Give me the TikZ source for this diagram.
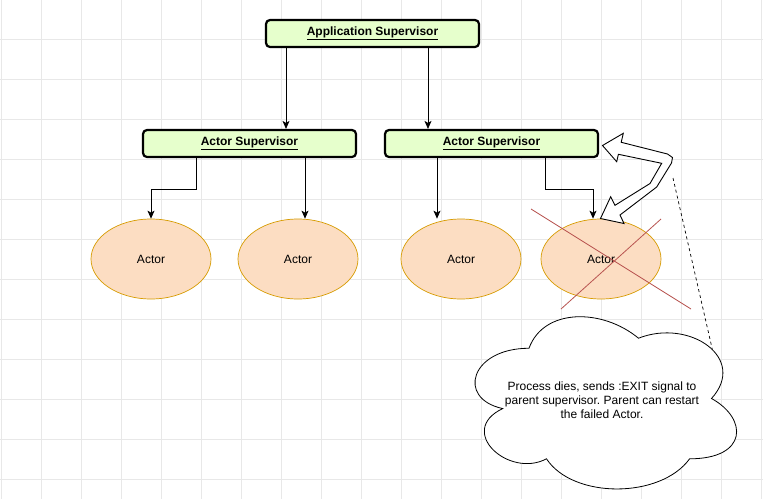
\documentclass[tikz,border=0pt]{standalone}
\usepackage{fontspec}
\setmainfont{Liberation Sans}
\usetikzlibrary{arrows.meta,shapes.geometric}
\definecolor{supfill}{HTML}{E6FFCC}
\definecolor{actorfill}{HTML}{FCDDC2}
\definecolor{actorline}{HTML}{D79B00}
\definecolor{crossred}{HTML}{B85450}
\definecolor{gridgray}{HTML}{E8E8E8}
\frenchspacing

\begin{document}
\begin{tikzpicture}[x=1pt,y=-1pt,
    gridline/.style={draw=gridgray,line width=0.6pt},
    supbox/.style={draw=black,fill=supfill,line width=2.2pt,rounded corners=4pt,
        minimum width=213pt,minimum height=27pt,inner sep=0pt,
        font=\fontsize{12}{14}\selectfont\bfseries},
    actor/.style={ellipse,draw=actorline,fill=actorfill,line width=0.7pt,
        minimum width=120pt,minimum height=80pt,inner sep=0pt,
        font=\fontsize{12}{14}\selectfont},
    conn/.style={draw=black,line width=0.8pt,-{Stealth[length=8pt,width=7pt,inset=2pt]}},
    cross/.style={draw=crossred,line width=0.8pt}]
\useasboundingbox (0,0) rectangle (763,499);
\fill[white] (0,0) rectangle (763,499);

% background grid
\foreach \gx in {1.5,41.5,...,761.5}
    \draw[gridline] (\gx,0) -- (\gx,499);
\foreach \gy in {39.5,79.5,...,479.5}
    \draw[gridline] (0,\gy) -- (763,\gy);

% supervisors
\node[supbox] (app) at (372.5,33.5) {\underline{Application Supervisor}};
\node[supbox] (supl) at (249.5,143.5) {\underline{Actor Supervisor}};
\node[supbox] (supr) at (491.5,143.5) {\underline{Actor Supervisor}};

% actors
\node[actor] (act1) at (151,259) {Actor};
\node[actor] (act2) at (298,259) {Actor};
\node[actor] (act3) at (461,259) {Actor};
\node[actor] (act4) at (601,259) {Actor};

% failed actor
\draw[cross] ([shift={(-70,-50)}]act4.center) -- ([shift={(90,50)}]act4.center);
\draw[cross] ([shift={(-40,50)}]act4.center) -- ([shift={(60,-40)}]act4.center);

% links
\draw[conn] ([xshift=-86.5pt]app.south) -- ([xshift=-86.5pt]app.south |- supl.north);
\draw[conn] ([xshift=55.5pt]app.south) -- ([xshift=55.5pt]app.south |- supr.north);
\draw[conn] ([xshift=-53.5pt]supl.south) -- ++(0,31) -| (act1.north);
\draw[conn] ([xshift=55.5pt]supl.south) -- ([xshift=55.5pt]supl.south |- act2.north);
\draw[conn] ([xshift=-54.5pt]supr.south) -- ([xshift=-54.5pt]supr.south |- act3.north);
\draw[conn] ([xshift=53.5pt]supr.south) -- ++(0,31) -| ([xshift=-8pt]act4.north);

% restart arrow
\draw[fill=white,line width=0.9pt,line join=miter]
    (602.5,145.5) -- (623.3,133.3) -- (621.2,142.3) -- (667.5,154)
    -- (672.5,157.5) -- (671.5,163) -- (656.7,187) -- (620,215)
    -- (624,223.5) -- (600.5,218.5) -- (610.7,196.7) -- (615,205.3)
    -- (650,183.5) -- (661.7,163.3) -- (618.4,154.3) -- (616.7,161.7) -- cycle;

% note
\draw[fill=white,line width=0.8pt]
    (529,348.25) .. controls (470.6,348.25) and (456,398.5) .. (502.7,408.55)
    .. controls (456,430.7) and (508.6,478.9) .. (546.5,458.8)
    .. controls (572.8,499) and (660.4,499) .. (689.6,458.8)
    .. controls (748,458.8) and (748,418.6) .. (711.5,398.5)
    .. controls (748,358.3) and (689.6,318.1) .. (638.5,338.2)
    .. controls (602,308.05) and (543.6,308.05) .. (529,348.25) -- cycle;
\node[align=center,font=\fontsize{12}{14}\selectfont] (note) at (602,400)
    {Process dies, sends :EXIT signal to\\parent supervisor. Parent can restart\\the failed Actor.};
\coordinate (bendpt) at (673,178);
\coordinate (notept) at (712.4,349.7);
\draw[dashed,line width=0.7pt] (bendpt) -- (notept);
\end{tikzpicture}
\end{document}
